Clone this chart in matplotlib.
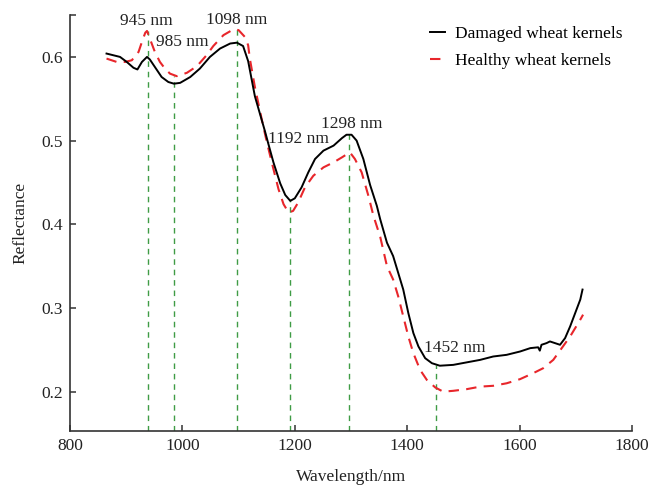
import matplotlib
matplotlib.use("Agg")
import matplotlib.pyplot as plt

# ---- data ----
damaged_wl = [865, 877, 889, 901, 913, 920, 928, 937, 942, 951, 963, 975, 985, 996,
              1014, 1031, 1049, 1067, 1085, 1097, 1108, 1117, 1123, 1129, 1138, 1147,
              1153, 1162, 1174, 1183, 1192, 1200, 1212, 1224, 1236, 1251, 1269, 1284,
              1292, 1301, 1310, 1322, 1334, 1346, 1352, 1364, 1375, 1384, 1393, 1402,
              1411, 1420, 1432, 1444, 1458, 1482, 1506, 1530, 1553, 1577, 1601, 1619,
              1633, 1636, 1639, 1648, 1654, 1663, 1672, 1681, 1690, 1699, 1708, 1712]
damaged_r = [0.604, 0.602, 0.600, 0.594, 0.587, 0.585, 0.594, 0.600, 0.597, 0.588,
             0.576, 0.570, 0.568, 0.569, 0.576, 0.586, 0.600, 0.610, 0.616, 0.617,
             0.613, 0.595, 0.574, 0.553, 0.532, 0.511, 0.496, 0.474, 0.449, 0.435,
             0.428, 0.431, 0.444, 0.462, 0.478, 0.488, 0.494, 0.503, 0.507, 0.507,
             0.500, 0.478, 0.447, 0.422, 0.406, 0.378, 0.362, 0.342, 0.322, 0.294,
             0.270, 0.254, 0.240, 0.234, 0.231, 0.232, 0.235, 0.238, 0.242, 0.244,
             0.248, 0.252, 0.253, 0.249, 0.256, 0.258, 0.260, 0.258, 0.256, 0.264,
             0.278, 0.294, 0.310, 0.322]

healthy_wl = [865, 883, 898, 910, 922, 928, 934, 937, 942, 951, 960, 969, 978, 990,
              1008, 1026, 1043, 1055, 1073, 1091, 1100, 1111, 1117, 1120, 1129, 1141,
              1150, 1159, 1171, 1180, 1189, 1197, 1206, 1218, 1233, 1251, 1269, 1284,
              1298, 1307, 1319, 1331, 1340, 1352, 1364, 1375, 1384, 1393, 1402, 1411,
              1423, 1435, 1450, 1464, 1482, 1506, 1530, 1553, 1577, 1601, 1624, 1642,
              1660, 1675, 1690, 1708, 1713]
healthy_r = [0.598, 0.594, 0.594, 0.596, 0.606, 0.618, 0.629, 0.631, 0.622, 0.606,
             0.594, 0.586, 0.580, 0.577, 0.581, 0.589, 0.602, 0.613, 0.626, 0.633,
             0.632, 0.624, 0.614, 0.598, 0.564, 0.526, 0.499, 0.474, 0.442, 0.424,
             0.414, 0.416, 0.426, 0.444, 0.458, 0.468, 0.474, 0.480, 0.486, 0.478,
             0.462, 0.434, 0.410, 0.385, 0.350, 0.334, 0.314, 0.290, 0.266, 0.246,
             0.226, 0.214, 0.205, 0.200, 0.201, 0.203, 0.206, 0.207, 0.210, 0.215,
             0.222, 0.228, 0.238, 0.252, 0.266, 0.286, 0.292]

line_wl = [938, 985, 1098, 1192, 1297, 1452]
line_top = [0.631, 0.577, 0.634, 0.430, 0.508, 0.232]
peak_labels = ["945 nm", "985 nm", "1098 nm", "1192 nm", "1298 nm", "1452 nm"]

x_ticks = [800, 1000, 1200, 1400, 1600, 1800]
y_ticks = [0.2, 0.3, 0.4, 0.5, 0.6]

plt.rcParams['font.family'] = ['Liberation Serif', 'DejaVu Serif']
fig = plt.figure(figsize=(6.53, 4.86), dpi=100)
ax = fig.add_axes([0.1072, 0.1132, 0.8606, 0.8558])

ymin, ymax = 0.153, 0.65
ax.vlines(line_wl, ymin, line_top, colors='#3f9c45', linestyles=(0, (4, 3.5)), lw=1.0, zorder=1)

ax.plot(damaged_wl, damaged_r, color='black', lw=1.4, label='Damaged wheat kernels', zorder=3)
ax.plot(healthy_wl, healthy_r, color='#e8262b', lw=1.5, dashes=(5, 3.5),
        label='Healthy wheat kernels', zorder=2)

label_pos = [(935, 0.6435), (999, 0.618), (1097, 0.6447), (1206, 0.5018), (1301, 0.5198), (1484, 0.2524)]
for (lx, ly), t in zip(label_pos, peak_labels):
    ax.text(lx, ly, t, ha='center', va='center', fontsize=12.5, color='#222222', zorder=4)

ax.set_xlim(800, 1800)
ax.set_ylim(ymin, ymax)
ax.set_xticks(x_ticks)
ax.set_yticks(y_ticks + [0.65])
ax.set_yticklabels([f"{v:.1f}" for v in y_ticks] + [""])
ax.tick_params(direction='in', length=4.5, width=1.1, labelsize=12.5, colors='#333333',
               labelcolor='#222222')
ax.tick_params(axis='x', pad=5)
ax.tick_params(axis='y', pad=5)
for s in ['top', 'right']:
    ax.spines[s].set_visible(False)
for s in ['left', 'bottom']:
    ax.spines[s].set_linewidth(1.2)
    ax.spines[s].set_color('#333333')

ax.set_xlabel('Wavelength/nm', fontsize=12.5, color='#222222', labelpad=10.5)
ax.set_ylabel('Reflectance', fontsize=12.5, color='#222222', labelpad=9.5)

leg = ax.legend(loc='upper right', bbox_to_anchor=(1.011, 1.012), frameon=False, fontsize=12.5,
                handlelength=0.9, handletextpad=0.55, labelspacing=0.64)

fig.savefig('out.png', dpi=100)
